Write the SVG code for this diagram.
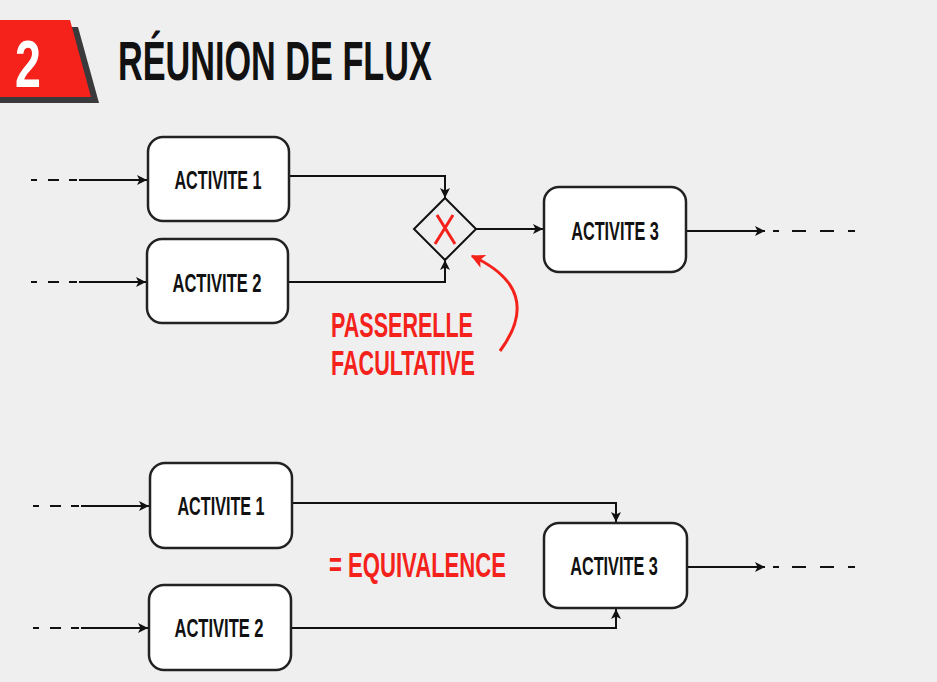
<svg xmlns="http://www.w3.org/2000/svg" width="937" height="682" viewBox="0 0 937 682">
<defs>
<marker id="arr" viewBox="0 0 10 10" refX="10" refY="5" markerWidth="10" markerHeight="10" markerUnits="userSpaceOnUse" orient="auto">
<path d="M0,0 L10,5 L0,10 L2.5,5 Z" fill="#111"/>
</marker>
<marker id="arrRed" viewBox="0 0 10 10" refX="9" refY="5" markerWidth="14" markerHeight="14" markerUnits="userSpaceOnUse" orient="auto">
<path d="M0,0 L10,5 L0,10 L2.5,5 Z" fill="#f5211b"/>
</marker>
</defs>
<style>
.bg{fill:#efefef}
.box{fill:#ffffff;stroke:#222;stroke-width:2.5}
.lbl{font-family:"Liberation Sans",Arial,sans-serif;font-weight:bold;font-size:25px;fill:#111;text-anchor:middle}
.conn{fill:none;stroke:#111;stroke-width:2}
.dash{fill:none;stroke:#111;stroke-width:2}
.red{font-family:"Liberation Sans",Arial,sans-serif;font-weight:bold;font-size:35px;fill:#f5211b}
</style>
<rect class="bg" x="0" y="0" width="937" height="682"/>

<g id="title">
<polygon points="0,27 78,27 99,103 0,103" fill="#3a3a3c"/>
<polygon points="0,20 70,20 91,97 0,97" fill="#f5211b"/>
<text transform="translate(15,87) scale(0.7,1)" x="0" y="0" font-family="'Liberation Sans',Arial,sans-serif" font-weight="bold" font-size="66" fill="#ffffff" textLength="37" lengthAdjust="spacingAndGlyphs">2</text>
<text transform="translate(118,80) scale(0.63,1)" x="0" y="0" font-family="'Liberation Sans',Arial,sans-serif" font-weight="bold" font-size="55" fill="#111" textLength="498" lengthAdjust="spacingAndGlyphs">RÉUNION DE FLUX</text>
</g>

<g id="connectors">
<path class="dash" d="M31 180 H37 M48 180 H59 M69 180 H77"/>
<path class="conn" d="M79 180 H147" marker-end="url(#arr)"/>
<path class="dash" d="M31 282 H37 M48 282 H59 M69 282 H77"/>
<path class="conn" d="M79 282 H146" marker-end="url(#arr)"/>
<path class="conn" d="M289 176 H445 V198" marker-end="url(#arr)"/>
<path class="conn" d="M288 282 H445 V260" marker-end="url(#arr)"/>
<path class="conn" d="M476 229 H543" marker-end="url(#arr)"/>
<path class="conn" d="M686 231 H765" marker-end="url(#arr)"/>
<path class="dash" d="M773 231 H779 M792 231 H806 M820 231 H834 M848 231 H855"/>
<path class="dash" d="M33 506 H39 M50 506 H61 M71 506 H79"/>
<path class="conn" d="M81 506 H149" marker-end="url(#arr)"/>
<path class="dash" d="M33 628 H39 M50 628 H61 M71 628 H79"/>
<path class="conn" d="M81 628 H148" marker-end="url(#arr)"/>
<path class="conn" d="M292 503 H616 V522" marker-end="url(#arr)"/>
<path class="conn" d="M291 628 H616 V609" marker-end="url(#arr)"/>
<path class="conn" d="M687 567 H765" marker-end="url(#arr)"/>
<path class="dash" d="M773 567 H779 M792 567 H806 M820 567 H834 M848 567 H855"/>
<path d="M500 351 Q545 290 472 256" fill="none" stroke="#f5211b" stroke-width="3" marker-end="url(#arrRed)"/>
</g>

<g id="a1-top">
<rect class="box" x="148" y="137" width="141" height="84" rx="15"/>
<text class="lbl" transform="translate(218,189) scale(0.65,1)" x="0" y="0" textLength="134" lengthAdjust="spacingAndGlyphs">ACTIVITE 1</text>
</g>
<g id="a2-top">
<rect class="box" x="147" y="239" width="141" height="84" rx="15"/>
<text class="lbl" transform="translate(217,292) scale(0.65,1)" x="0" y="0" textLength="137" lengthAdjust="spacingAndGlyphs">ACTIVITE 2</text>
</g>
<g id="gateway">
<polygon points="445,198 476,229 445,260 414,229" fill="#efefef" stroke="#111" stroke-width="2"/>
<path d="M437 215 L455 244 M453 215 L435 244" stroke="#f5211b" stroke-width="3" fill="none"/>
</g>
<g id="a3-top">
<rect class="box" x="544" y="187" width="142" height="85" rx="15"/>
<text class="lbl" transform="translate(615,240) scale(0.65,1)" x="0" y="0" textLength="135" lengthAdjust="spacingAndGlyphs">ACTIVITE 3</text>
</g>
<g id="note-passerelle">
<text class="red" transform="translate(331,337) scale(0.62,1)" x="0" y="0" textLength="229" lengthAdjust="spacingAndGlyphs">PASSERELLE</text>
<text class="red" transform="translate(331,375) scale(0.62,1)" x="0" y="0" textLength="232" lengthAdjust="spacingAndGlyphs">FACULTATIVE</text>
</g>

<g id="a1-bottom">
<rect class="box" x="150" y="463" width="142" height="85" rx="15"/>
<text class="lbl" transform="translate(221,515) scale(0.65,1)" x="0" y="0" textLength="134" lengthAdjust="spacingAndGlyphs">ACTIVITE 1</text>
</g>
<g id="a2-bottom">
<rect class="box" x="149" y="585" width="142" height="85" rx="15"/>
<text class="lbl" transform="translate(219,637) scale(0.65,1)" x="0" y="0" textLength="137" lengthAdjust="spacingAndGlyphs">ACTIVITE 2</text>
</g>
<g id="a3-bottom">
<rect class="box" x="544" y="523" width="143" height="85" rx="15"/>
<text class="lbl" transform="translate(614,575) scale(0.65,1)" x="0" y="0" textLength="135" lengthAdjust="spacingAndGlyphs">ACTIVITE 3</text>
</g>
<g id="note-equivalence">
<text class="red" transform="translate(329,577) scale(0.63,1)" x="0" y="0" textLength="281" lengthAdjust="spacingAndGlyphs">= EQUIVALENCE</text>
</g>
</svg>
